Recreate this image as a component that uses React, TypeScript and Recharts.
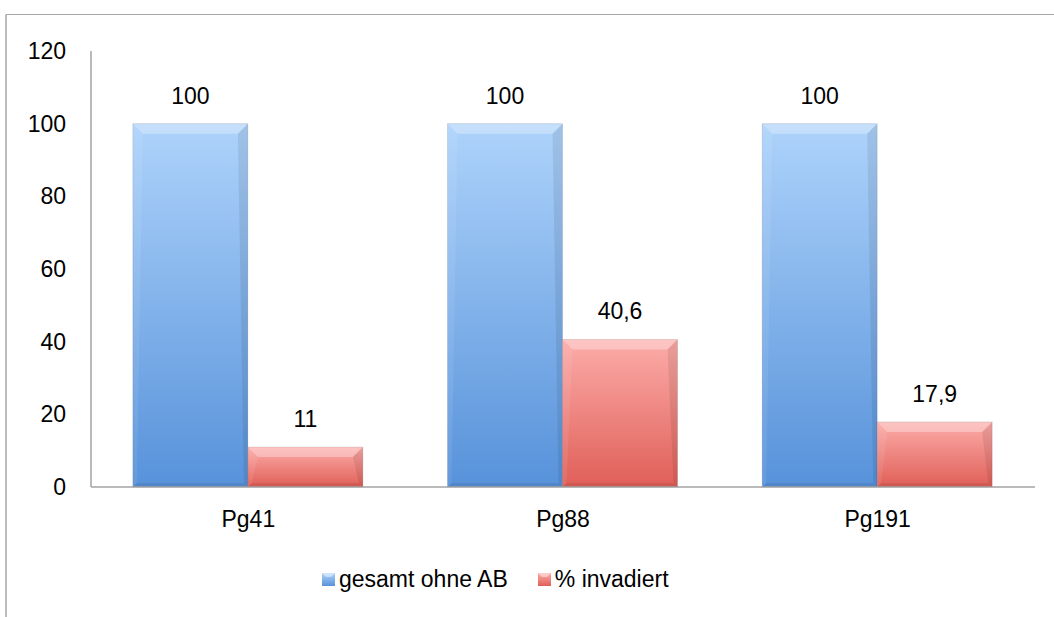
import { Bar, BarChart, LabelList, Legend, XAxis, YAxis } from 'recharts'

const categories = ['Pg41', 'Pg88', 'Pg191']
const gesamtOhneAB = [100, 100, 100]
const prozentInvadiert = [11, 40.6, 17.9]
const yTicks = [0, 20, 40, 60, 80, 100, 120]

const seriesNames = ['gesamt ohne AB', '% invadiert']

const data = categories.map((name, i) => ({
  name,
  gesamt: gesamtOhneAB[i],
  invadiert: prozentInvadiert[i],
}))

const FONT = '"Liberation Sans", Arial, sans-serif'
const AXIS_GRAY = '#a3a3a3'

function BevelBar(props: any) {
  const { x, y, width: w, height: h, gradId } = props
  if (!h || h <= 0) return null
  const b = Math.min(10, h / 3)
  const s = Math.min(4, w / 4)
  return (
    <g>
      <rect x={x} y={y} width={w} height={h} fill={`url(#${gradId})`} />
      {/* top bevel */}
      <polygon
        points={`${x},${y} ${x + w},${y} ${x + w - b},${y + b} ${x + b},${y + b}`}
        fill="#ffffff"
        fillOpacity={0.3}
      />
      {/* left bevel */}
      <polygon
        points={`${x},${y} ${x + b},${y + b} ${x + s},${y + h - s} ${x},${y + h}`}
        fill="#ffffff"
        fillOpacity={0.08}
      />
      {/* right bevel */}
      <polygon
        points={`${x + w},${y} ${x + w},${y + h} ${x + w - s},${y + h - s} ${x + w - b},${y + b}`}
        fill="#000000"
        fillOpacity={0.08}
      />
      {/* bottom bevel */}
      <polygon
        points={`${x},${y + h} ${x + w},${y + h} ${x + w - s},${y + h - s} ${x + s},${y + h - s}`}
        fill="#000000"
        fillOpacity={0.08}
      />
      <rect x={x} y={y} width={w} height={h} fill="none" stroke="#000" strokeOpacity={0.1} />
    </g>
  )
}

function LegendSwatch({ gradId }: { gradId: string }) {
  return (
    <svg width={13} height={13} style={{ marginRight: 4 }}>
      <rect x={0} y={0} width={13} height={13} fill={`url(#${gradId})`} />
      <polygon points="0,0 13,0 9,4 4,4" fill="#fff" fillOpacity={0.45} />
    </svg>
  )
}

function ChartLegend() {
  return (
    <div
      style={{
        display: 'flex',
        alignItems: 'center',
        fontFamily: FONT,
        fontSize: 23,
        color: '#000',
      }}
    >
      <LegendSwatch gradId="gradBlue" />
      <span style={{ marginRight: 30 }}>{seriesNames[0]}</span>
      <LegendSwatch gradId="gradRed" />
      <span>{seriesNames[1]}</span>
    </div>
  )
}

export default function App() {
  return (
    <div
      style={{
        position: 'fixed',
        left: 0,
        top: 0,
        width: 1054,
        height: 617,
        overflow: 'hidden',
        background: '#fff',
      }}
    >
      <BarChart
        width={1054}
        height={617}
        data={data}
        margin={{ top: 51, right: 19, left: 0, bottom: 0 }}
        barCategoryGap="13.3%"
        barGap={0}
      >
        <defs>
          <linearGradient id="gradBlue" x1="0" y1="0" x2="0" y2="1">
            <stop offset="0%" stopColor="#aed3fb" />
            <stop offset="100%" stopColor="#5792da" />
          </linearGradient>
          <linearGradient id="gradRed" x1="0" y1="0" x2="0" y2="1">
            <stop offset="0%" stopColor="#fcaca9" />
            <stop offset="100%" stopColor="#e05f58" />
          </linearGradient>
        </defs>
        <XAxis
          dataKey="name"
          height={130}
          stroke={AXIS_GRAY}
          strokeWidth={1.5}
          tickLine={false}
          tickSize={0}
          tickMargin={24}
          tick={{ fill: '#000', fontSize: 23, fontFamily: FONT }}
        />
        <YAxis
          width={91}
          domain={[0, 120]}
          ticks={yTicks}
          stroke={AXIS_GRAY}
          strokeWidth={1.5}
          tickLine={false}
          tickSize={0}
          tickMargin={25}
          tick={{ fill: '#000', fontSize: 23, fontFamily: FONT }}
        />
        <Legend
          verticalAlign="middle"
          align="center"
          wrapperStyle={{ top: 566, left: 322, width: 500 }}
          content={() => <ChartLegend />}
        />
        <Bar
          dataKey="gesamt"
          name={seriesNames[0]}
          fill="#6fa6e6"
          isAnimationActive={false}
          shape={(p: any) => <BevelBar {...p} gradId="gradBlue" />}
        >
          <LabelList
            dataKey="gesamt"
            position="top"
            offset={20}
            style={{ fill: '#000', fontSize: 23, fontFamily: FONT }}
          />
        </Bar>
        <Bar
          dataKey="invadiert"
          name={seriesNames[1]}
          fill="#f08a85"
          isAnimationActive={false}
          shape={(p: any) => <BevelBar {...p} gradId="gradRed" />}
        >
          <LabelList
            dataKey="invadiert"
            position="top"
            offset={20}
            formatter={(v: any) => String(v).replace('.', ',')}
            style={{ fill: '#000', fontSize: 23, fontFamily: FONT }}
          />
        </Bar>
      </BarChart>
      {/* chart area frame, only its top and left edges are in view */}
      <svg
        width={1054}
        height={617}
        style={{ position: 'absolute', left: 0, top: 0, pointerEvents: 'none' }}
      >
        <line x1={6} y1={14.5} x2={1054} y2={14.5} stroke="#a6a6a6" strokeWidth={1} />
        <line x1={6} y1={14.5} x2={6} y2={617} stroke="#a6a6a6" strokeWidth={1.5} />
      </svg>
    </div>
  )
}
